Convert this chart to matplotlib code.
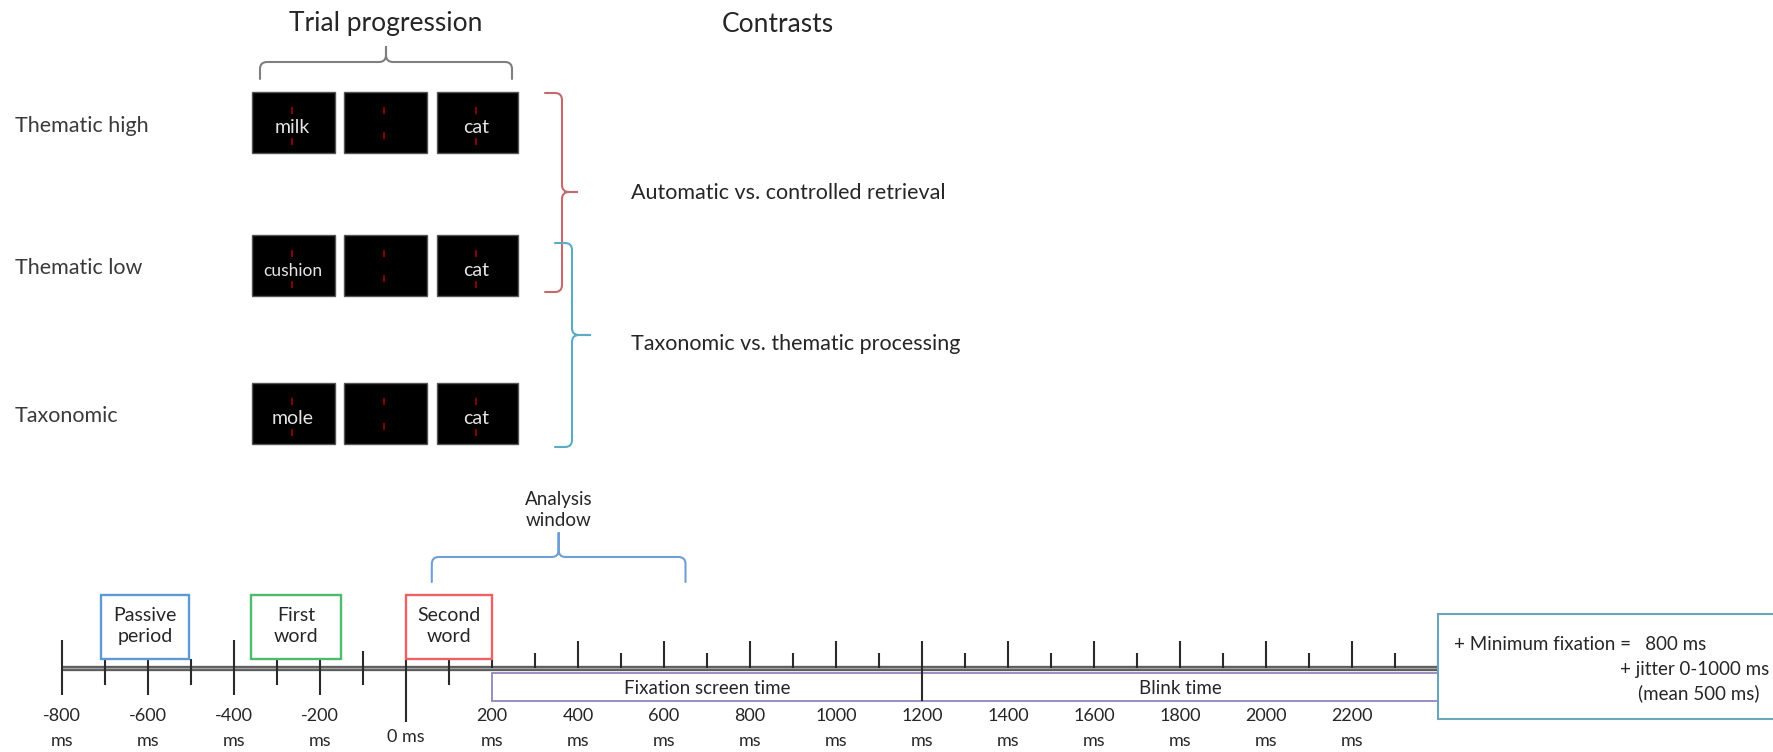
import numpy as np
import matplotlib.pyplot as plt
from matplotlib.patches import Rectangle, PathPatch
from matplotlib.path import Path

plt.rcParams['font.family'] = ['Lato', 'DejaVu Sans']

# data
conditions = ["Thematic high", "Thematic low", "Taxonomic"]
first_words = ["milk", "cushion", "mole"]
target_words = ["cat", "cat", "cat"]
contrasts = ["Automatic vs. controlled retrieval", "Taxonomic vs. thematic processing"]

tick_ms = np.arange(-800, 2401, 100)
label_ms = np.arange(-800, 2201, 200)
event_names = ["Passive\nperiod", "First\nword", "Second\nword"]
event_start = [-710, -360, 0]
event_end = [-505, -150, 200]
event_colors = ["#5b9bd5", "#4cbb6c", "#f06060"]
analysis_window = [60, 650]
phase_names = ["Fixation screen time", "Blink time"]
phase_start = [200, 1200]
phase_end = [1200, 2400]
note_lines = ["+ Minimum fixation =   800 ms", "+ jitter 0-1000 ms", "(mean 500 ms)"]

W, H = 1774, 752
fig = plt.figure(figsize=(W / 100, H / 100), dpi=100)
ax = fig.add_axes([0, 0, 1, 1])
ax.set_xlim(0, W)
ax.set_ylim(H, 0)
ax.axis('off')

# timeline axes: x in ms, y in the same pixel rows
zero_px, px_per_ms = 406, 0.43
tl = fig.add_axes([0, 0, 1, 1])
tl.set_xlim((0 - zero_px) / px_per_ms, (W - zero_px) / px_per_ms)
tl.set_ylim(H, 0)
tl.axis('off')
tl.patch.set_alpha(0)

TXT = '#262626'


def vbrace(a, xs, xh, xt, y0, y1, ym, r, color):
    verts = [(xh, y0), (xs - r, y0), (xs, y0), (xs, y0 + r), (xs, ym - r), (xs, ym), (xs + r, ym), (xt, ym),
             (xt, ym), (xs + r, ym), (xs, ym), (xs, ym + r), (xs, y1 - r), (xs, y1), (xs - r, y1), (xh, y1)]
    codes = [Path.MOVETO, Path.LINETO, Path.CURVE3, Path.CURVE3, Path.LINETO, Path.CURVE3, Path.CURVE3, Path.LINETO,
             Path.MOVETO, Path.LINETO, Path.CURVE3, Path.CURVE3, Path.LINETO, Path.CURVE3, Path.CURVE3, Path.LINETO]
    a.add_patch(PathPatch(Path(verts, codes), fill=False, edgecolor=color, lw=1.5, capstyle='round'))


def hbrace(a, ys, yh, yt, x0, x1, xm, rx, ry, color):
    verts = [(x0, yh), (x0, ys + ry), (x0, ys), (x0 + rx, ys), (xm - rx, ys), (xm, ys), (xm, ys - ry), (xm, yt),
             (xm, yt), (xm, ys - ry), (xm, ys), (xm + rx, ys), (x1 - rx, ys), (x1, ys), (x1, ys + ry), (x1, yh)]
    codes = [Path.MOVETO, Path.LINETO, Path.CURVE3, Path.CURVE3, Path.LINETO, Path.CURVE3, Path.CURVE3, Path.LINETO,
             Path.MOVETO, Path.LINETO, Path.CURVE3, Path.CURVE3, Path.LINETO, Path.CURVE3, Path.CURVE3, Path.LINETO]
    a.add_patch(PathPatch(Path(verts, codes), fill=False, edgecolor=color, lw=1.5, capstyle='round'))


# ---- top panel ----
ax.text(386, 24, "Trial progression", ha='center', va='center', fontsize=19, color=TXT)
ax.text(778, 24, "Contrasts", ha='center', va='center', fontsize=19, color=TXT)
hbrace(ax, 62, 79, 47, 260, 512, 386, 7, 7, '#7f7f7f')

col_x = [(252, 335), (344, 427), (437, 518)]
row_top = [92, 235, 383]
box_h = 61
for i, cond in enumerate(conditions):
    top = row_top[i]
    ax.text(15, top + box_h / 2 + 3, cond, ha='left', va='center', fontsize=15.5, color='#3a3a3a')
    words = [first_words[i], "", target_words[i]]
    for j, (x0, x1) in enumerate(col_x):
        ax.add_patch(Rectangle((x0, top), x1 - x0, box_h, facecolor='black', edgecolor='#555', lw=1))
        cx = (x0 + x1) / 2 - 1
        bottom_mark = top + 43 if j == 1 else top + 49
        for my in (top + 18, bottom_mark):
            ax.plot([cx, cx], [my - 3.5, my + 3.5], color='#8b0000', lw=1.4, solid_capstyle='butt')
        if words[j]:
            fs = 12.5 if len(words[j]) > 5 else 14
            ax.text(cx, top + box_h / 2 + 5, words[j], ha='center', va='center', fontsize=fs, color='#e4e4e4')

vbrace(ax, 562, 545, 577, 93, 292, 192, 7, '#c46a6f')
vbrace(ax, 572, 555, 590, 243, 447, 335, 7, '#5aabc4')
ax.text(631, 193, contrasts[0], ha='left', va='center', fontsize=15.5, color=TXT)
ax.text(631, 344, contrasts[1], ha='left', va='center', fontsize=15.5, color=TXT)

# ---- timeline ----
line_y = 667.5
tl.plot([tick_ms[0], tick_ms[-1]], [line_y, line_y], color='#5a5a5a', lw=3.8, solid_capstyle='butt', zorder=2)
tl.plot([tick_ms[0], tick_ms[-1]], [line_y, line_y], color='#a0a0a0', lw=1.0, solid_capstyle='butt', zorder=2)


def tick_extent(ms):
    if ms in (-800, -400):
        return 640, 695
    if ms in (-600, -200):
        return 659, 695
    if ms == -100:
        return 651, 685
    if ms == 0:
        return 660, 722
    if ms == 200:
        return 659, 668
    if ms < 200:
        return 659, 685
    if ms == 1200:
        return 641, 701
    if ms == 2400:
        return 640, 672
    if ms % 200 == 0:
        return 641, 668
    return 653, 668


for ms in tick_ms:
    y0, y1 = tick_extent(ms)
    tl.plot([ms, ms], [y0, y1], color='#2a2a2a', lw=1.5, solid_capstyle='butt', zorder=3)

for ms in label_ms:
    if ms == 0:
        tl.text(ms, 737, "0 ms", ha='center', va='center', fontsize=13, color=TXT)
    else:
        tl.text(ms, 716, str(ms), ha='center', va='center', fontsize=13, color=TXT)
        tl.text(ms, 741, "ms", ha='center', va='center', fontsize=13, color=TXT)

for name, s, e, c in zip(event_names, event_start, event_end, event_colors):
    tl.add_patch(Rectangle((s, 595), e - s, 64, facecolor='white', edgecolor=c, lw=1.7, zorder=4))
    tl.text((s + e) / 2, 626, name, ha='center', va='center', fontsize=14, color=TXT,
            linespacing=1.35, zorder=5)

a0, a1 = analysis_window
hbrace(tl, 557, 582, 533, a0, a1, (a0 + a1) / 2, 7 / px_per_ms, 7, '#6f9fd4')
tl.text((a0 + a1) / 2, 510, "Analysis\nwindow", ha='center', va='center', fontsize=13.5, color=TXT,
        linespacing=1.3)

for name, s, e in zip(phase_names, phase_start, phase_end):
    tl.add_patch(Rectangle((s, 673), e - s, 28, facecolor='none', edgecolor='#9384bd', lw=1.3, zorder=1))
    tl.text((s + e) / 2, 688, name, ha='center', va='center', fontsize=13.5, color=TXT)

# right note box
tl.add_patch(Rectangle((phase_end[-1], 614), 1000, 105, facecolor='white', edgecolor='#6aa5b8', lw=1.5, zorder=4))
tl.text(1454, 645, note_lines[0], ha='left', va='center', fontsize=13.5, color=TXT, zorder=6,
        transform=ax.transData)
tl.text(1769, 670, note_lines[1], ha='right', va='center', fontsize=13.5, color=TXT, zorder=6,
        transform=ax.transData)
tl.text(1638, 693, note_lines[2], ha='left', va='center', fontsize=13.5, color=TXT, zorder=6,
        transform=ax.transData)

fig.savefig("out.png", dpi=100)
